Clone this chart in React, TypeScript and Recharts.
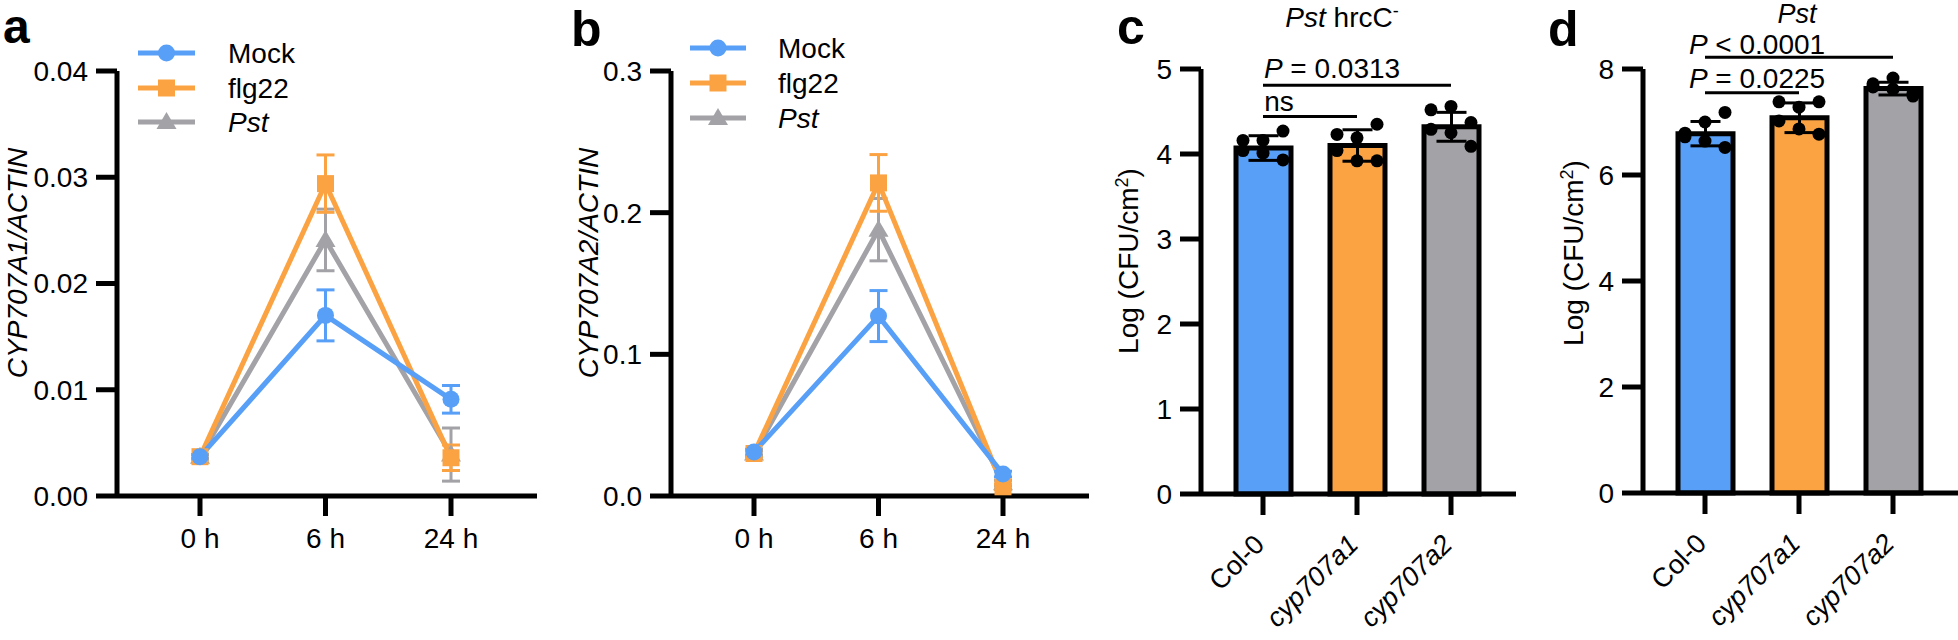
import React from 'react';
import {
  LineChart,
  Line,
  XAxis,
  YAxis,
  ErrorBar,
  ComposedChart,
  Bar,
  Cell,
  Scatter,
  ReferenceLine,
} from 'recharts';

const FONT = '"Liberation Sans", Arial, Helvetica, sans-serif';
const BLUE = '#579ff7';
const ORANGE = '#fba343';
const GRAY = '#a2a2a7';

// time course (panels a, b)
const TIMES = ['0 h', '6 h', '24 h'];

const A_MOCK = [0.0037, 0.017, 0.0091];
const A_MOCK_SD = [0.0002, 0.0024, 0.0013];
const A_FLG22 = [0.0037, 0.0294, 0.0036];
const A_FLG22_SD = [0.0002, 0.0027, 0.0012];
const A_PST = [0.0037, 0.0241, 0.0039];
const A_PST_SD = [0.0002, 0.0029, 0.0025];

const B_MOCK = [0.031, 0.127, 0.0155];
const B_MOCK_SD = [0.002, 0.018, 0.002];
const B_FLG22 = [0.03, 0.221, 0.0065];
const B_FLG22_SD = [0.002, 0.02, 0.002];
const B_PST = [0.03, 0.188, 0.009];
const B_PST_SD = [0.002, 0.022, 0.002];

// bacterial growth (panels c, d)
const GENOTYPES = ['Col-0', 'cyp707a1', 'cyp707a2'];
const BAR_COLORS = [BLUE, ORANGE, GRAY];

const C_MEAN = [4.07, 4.1, 4.32];
const C_SD = [0.145, 0.185, 0.17];
const C_COL0_PTS = [4.16, 4.16, 4.27, 4.04, 4.01, 3.93];
const C_A1_PTS = [4.23, 4.19, 4.35, 4.04, 3.92, 3.92];
const C_A2_PTS = [4.52, 4.56, 4.37, 4.29, 4.25, 4.09];

const D_MEAN = [6.78, 7.08, 7.63];
const D_SD = [0.23, 0.28, 0.12];
const D_COL0_PTS = [6.79, 7.0, 7.18, 6.72, 6.64, 6.52];
const D_A1_PTS = [7.38, 7.28, 7.38, 7.02, 6.87, 6.77];
const D_A2_PTS = [7.72, 7.83, 7.54, 7.66, 7.62, 7.49];

// significance brackets: [from, to, height]
const C_BRACKETS: [string, string, number][] = [
  ['Col-0', 'cyp707a2', 4.81],
  ['Col-0', 'cyp707a1', 4.44],
];
const D_BRACKETS: [string, string, number][] = [
  ['Col-0', 'cyp707a2', 8.22],
  ['Col-0', 'cyp707a1', 7.55],
];

// horizontal spread of replicate dots (px)
const JITTER = [-20, 0, 20, -20, 0, 20];

const SERIES = [
  { key: 'mock', name: 'Mock', color: BLUE, kind: 'circle', italic: false },
  { key: 'flg22', name: 'flg22', color: ORANGE, kind: 'square', italic: false },
  { key: 'pst', name: 'Pst', color: GRAY, kind: 'triangle', italic: true },
];

function buildTimeData(mock: number[], mockSd: number[], flg: number[], flgSd: number[], pst: number[], pstSd: number[]) {
  return TIMES.map((t, i) => ({
    time: t,
    mock: mock[i],
    mockSd: mockSd[i],
    flg22: flg[i],
    flg22Sd: flgSd[i],
    pst: pst[i],
    pstSd: pstSd[i],
  }));
}

function buildBarData(mean: number[], sd: number[], pts: number[][]) {
  return GENOTYPES.map((g, i) => {
    const row: any = { name: g, value: mean[i], sd: sd[i] };
    pts[i].forEach((v, j) => (row['p' + j] = v));
    return row;
  });
}

const dataA = buildTimeData(A_MOCK, A_MOCK_SD, A_FLG22, A_FLG22_SD, A_PST, A_PST_SD);
const dataB = buildTimeData(B_MOCK, B_MOCK_SD, B_FLG22, B_FLG22_SD, B_PST, B_PST_SD);
const dataC = buildBarData(C_MEAN, C_SD, [C_COL0_PTS, C_A1_PTS, C_A2_PTS]);
const dataD = buildBarData(D_MEAN, D_SD, [D_COL0_PTS, D_A1_PTS, D_A2_PTS]);

function Marker({ kind, x, y, color }: { kind: string; x: number; y: number; color: string }) {
  if (kind === 'circle') return <circle cx={x} cy={y} r={8.5} fill={color} />;
  if (kind === 'square') return <rect x={x - 8.5} y={y - 8.5} width={17} height={17} fill={color} />;
  return <polygon points={`${x},${y - 10} ${x - 10},${y + 7} ${x + 10},${y + 7}`} fill={color} />;
}

const makeDot = (kind: string, color: string) => (p: any) => (
  <g key={`${kind}-${p.index}`}>
    {p.cx != null && p.cy != null ? <Marker kind={kind} x={p.cx} y={p.cy} color={color} /> : null}
  </g>
);

const tickStyle = { fill: '#000', fontSize: 28, fontFamily: FONT };
const axisStyle = { stroke: '#000', strokeWidth: 5 };
const tickLineStyle = { stroke: '#000', strokeWidth: 5 };

function TimePanel({ data, left, width, yWidth, mRight, max, ticks, digits }: any) {
  // draw Pst first so Mock sits on top
  const order = [SERIES[2], SERIES[1], SERIES[0]];
  return (
    <div style={{ position: 'absolute', left, top: 0 }}>
      <LineChart width={width} height={640} data={data} margin={{ top: 71, right: mRight, bottom: 84, left: 0 }}>
        <XAxis
          dataKey="time"
          height={60}
          interval={0}
          padding={{ left: 83, right: 86 }}
          axisLine={axisStyle}
          tickLine={tickLineStyle}
          tickSize={20}
          tickMargin={12}
          tick={tickStyle}
        />
        <YAxis
          width={yWidth}
          domain={[0, max]}
          ticks={ticks}
          interval={0}
          axisLine={axisStyle}
          tickLine={tickLineStyle}
          tickSize={21}
          tickMargin={8}
          tick={tickStyle}
          tickFormatter={(v: number) => v.toFixed(digits)}
        />
        {order.map((s) => (
          <Line
            key={s.key}
            dataKey={s.key}
            type="linear"
            stroke={s.color}
            strokeWidth={5}
            dot={makeDot(s.kind, s.color)}
            activeDot={false}
            isAnimationActive={false}
          >
            <ErrorBar dataKey={s.key + 'Sd'} width={9} strokeWidth={3} stroke={s.color} />
          </Line>
        ))}
      </LineChart>
    </div>
  );
}

const CatTick = (p: any) => {
  const label = p.payload.value;
  const x = p.x + 3;
  const y = p.y;
  return (
    <text
      x={x}
      y={y}
      textAnchor="end"
      transform={`rotate(-45 ${x} ${y})`}
      fontSize={27}
      fontFamily={FONT}
      fontStyle={label === 'Col-0' ? 'normal' : 'italic'}
      fill="#000"
    >
      {label}
    </text>
  );
};

function BarPanel({ data, left, width, yWidth, mRight, top, bottom, max, ticks, brackets }: any) {
  return (
    <div style={{ position: 'absolute', left, top: 0 }}>
      <ComposedChart width={width} height={640} data={data} margin={{ top, right: mRight, bottom: 640 - bottom - 60, left: 0 }}>
        <XAxis
          dataKey="name"
          height={60}
          interval={0}
          padding={{ left: 15, right: 18 }}
          axisLine={axisStyle}
          tickLine={tickLineStyle}
          tickSize={21}
          tickMargin={31}
          tick={<CatTick />}
        />
        <YAxis
          width={yWidth}
          domain={[0, max]}
          ticks={ticks}
          interval={0}
          axisLine={axisStyle}
          tickLine={tickLineStyle}
          tickSize={21}
          tickMargin={8}
          tick={tickStyle}
        />
        <Bar dataKey="value" barSize={55} stroke="#000" strokeWidth={5} isAnimationActive={false}>
          {data.map((_: any, i: number) => (
            <Cell key={i} fill={BAR_COLORS[i]} />
          ))}
          <ErrorBar dataKey="sd" width={15} strokeWidth={3} stroke="#000" />
        </Bar>
        {JITTER.map((dx, j) => (
          <Scatter
            key={j}
            dataKey={'p' + j}
            isAnimationActive={false}
            legendType="none"
            shape={(p: any) => <circle cx={p.cx + dx} cy={p.cy} r={6.5} fill="#000" />}
          />
        ))}
        {brackets.map(([a, b, y]: [string, string, number], k: number) => (
          <ReferenceLine
            key={k}
            segment={[{ x: a, y }, { x: b, y }]}
            stroke="#000"
            strokeWidth={3}
            ifOverflow="visible"
          />
        ))}
      </ComposedChart>
    </div>
  );
}

function Legend2({ lineX0, lineX1, textX, rows }: any) {
  return (
    <g>
      {SERIES.map((s, i) => (
        <g key={s.key}>
          <line x1={lineX0} x2={lineX1} y1={rows[i]} y2={rows[i]} stroke={s.color} strokeWidth={5} />
          <Marker kind={s.kind} x={(lineX0 + lineX1) / 2} y={rows[i]} color={s.color} />
          <text x={textX} y={rows[i] + 10} fontStyle={s.italic ? 'italic' : 'normal'}>
            {s.name}
          </text>
        </g>
      ))}
    </g>
  );
}

function Overlay() {
  const rot = (x: number, y: number) => `rotate(-90 ${x} ${y})`;
  return (
    <svg
      width={1958}
      height={640}
      style={{ position: 'absolute', left: 0, top: 0, pointerEvents: 'none' }}
      fontFamily={FONT}
      fontSize={28}
      fill="#000"
    >
      {/* panel letters */}
      <g fontWeight="bold" fontSize={50}>
        <text x={3} y={43} fontSize={48}>a</text>
        <text x={571} y={46}>b</text>
        <text x={1117} y={44}>c</text>
        <text x={1548} y={46}>d</text>
      </g>

      <Legend2 lineX0={138} lineX1={195} textX={228} rows={[53, 88, 122]} />
      <Legend2 lineX0={690} lineX1={746} textX={778} rows={[48, 83, 118]} />

      {/* axis titles */}
      <text x={27} y={263} transform={rot(27, 263)} textAnchor="middle" fontStyle="italic">
        CYP707A1/ACTIN
      </text>
      <text x={598} y={263} transform={rot(598, 263)} textAnchor="middle" fontStyle="italic">
        CYP707A2/ACTIN
      </text>
      <text x={1138} y={261} transform={rot(1138, 261)} textAnchor="middle">
        Log (CFU/cm<tspan baselineShift="super" fontSize={18}>2</tspan>)
      </text>
      <text x={1583} y={253} transform={rot(1583, 253)} textAnchor="middle">
        Log (CFU/cm<tspan baselineShift="super" fontSize={18}>2</tspan>)
      </text>

      {/* panel c annotations */}
      <text x={1342} y={27} textAnchor="middle">
        <tspan fontStyle="italic">Pst</tspan> hrcC<tspan baselineShift="super" fontSize={18}>-</tspan>
      </text>
      <text x={1332} y={78} textAnchor="middle">
        <tspan fontStyle="italic">P</tspan> = 0.0313
      </text>
      <text x={1279} y={111} textAnchor="middle">ns</text>

      {/* panel d annotations */}
      <text x={1797} y={23} textAnchor="middle" fontStyle="italic" fontSize={27}>Pst</text>
      <text x={1757} y={54} textAnchor="middle">
        <tspan fontStyle="italic">P</tspan> &lt; 0.0001
      </text>
      <text x={1757} y={88} textAnchor="middle">
        <tspan fontStyle="italic">P</tspan> = 0.0225
      </text>
    </svg>
  );
}

export default function App() {
  return (
    <div style={{ position: 'absolute', left: 0, top: 0, width: 1958, height: 640, background: '#fff', fontFamily: FONT }}>
      <TimePanel data={dataA} left={0} width={545} yWidth={117} mRight={8} max={0.04}
        ticks={[0, 0.01, 0.02, 0.03, 0.04]} digits={2} />
      <TimePanel data={dataB} left={545} width={550} yWidth={126} mRight={6} max={0.3}
        ticks={[0, 0.1, 0.2, 0.3]} digits={1} />
      <BarPanel data={dataC} left={1000} width={520} yWidth={201} mRight={4} top={69} bottom={494}
        max={5} ticks={[0, 1, 2, 3, 4, 5]} brackets={C_BRACKETS} />
      <BarPanel data={dataD} left={1525} width={433} yWidth={118} mRight={0} top={69} bottom={493}
        max={8} ticks={[0, 2, 4, 6, 8]} brackets={D_BRACKETS} />
      <Overlay />
    </div>
  );
}
